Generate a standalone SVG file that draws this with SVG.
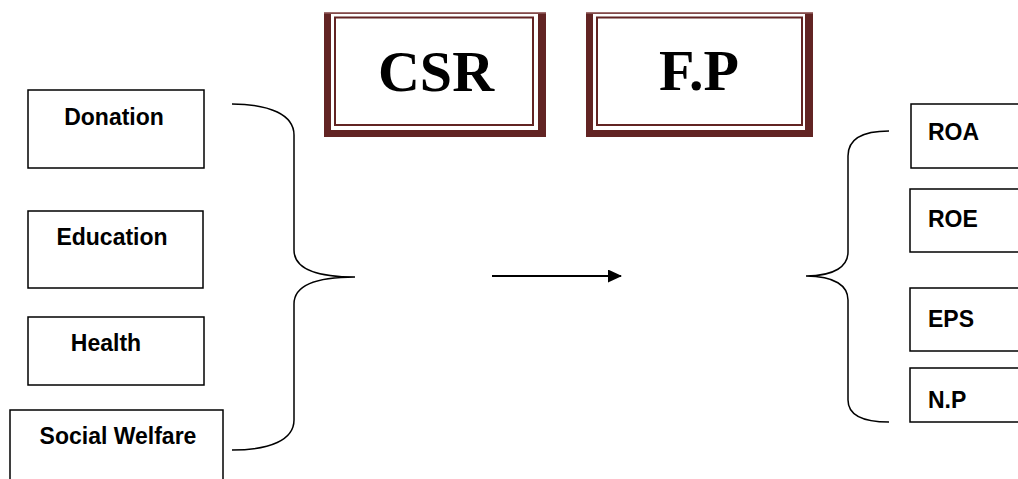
<svg xmlns="http://www.w3.org/2000/svg" width="1018" height="479" viewBox="0 0 1018 479">
<style>
.box{fill:#fff;stroke:#000;stroke-width:1.5}
.lbl{font-family:"Liberation Sans",Arial,sans-serif;font-weight:bold;font-size:23px;fill:#000}
.big{font-family:"Liberation Serif","Times New Roman",serif;font-weight:bold;font-size:58px;fill:#000;text-anchor:middle}
.frame{fill:#622423}
.inner{fill:none;stroke:#622423;stroke-width:2}
.brace{fill:none;stroke:#000;stroke-width:1.5}
</style>
<defs>
<marker id="ah" markerWidth="14" markerHeight="13" refX="13" refY="6.5" orient="auto" markerUnits="userSpaceOnUse">
<path d="M0,0 L14,6.5 L0,13 Z" fill="#000"/>
</marker>
</defs>
<rect width="1018" height="479" fill="#fff"/>
<g id="csr">
<rect class="frame" x="324" y="12" width="222" height="125"/>
<rect x="331" y="14" width="207" height="116" fill="#fff"/>
<rect x="324" y="12" width="222" height="1.5" fill="#a07070"/>
<rect class="inner" x="335" y="17.5" width="198" height="107.5"/>
<text class="big" x="436" y="91">CSR</text>
</g>
<g id="fp">
<rect class="frame" x="586" y="12" width="227" height="125"/>
<rect x="593" y="14" width="212" height="116" fill="#fff"/>
<rect x="586" y="12" width="227" height="1.5" fill="#a07070"/>
<rect class="inner" x="597" y="17.5" width="205" height="107.5"/>
<text class="big" x="699" y="90">F.P</text>
</g>
<g id="donation"><rect class="box" x="28" y="90" width="176" height="78"/><text class="lbl" x="114" y="125" text-anchor="middle">Donation</text></g>
<g id="education"><rect class="box" x="28" y="211" width="175" height="77"/><text class="lbl" x="112" y="245" text-anchor="middle">Education</text></g>
<g id="health"><rect class="box" x="28" y="317" width="176" height="68"/><text class="lbl" x="106" y="351" text-anchor="middle">Health</text></g>
<g id="social-welfare"><rect class="box" x="10" y="410" width="213" height="80"/><text class="lbl" x="118" y="444" text-anchor="middle">Social Welfare</text></g>
<g id="roa"><rect class="box" x="911" y="104" width="120" height="64"/><text class="lbl" x="928" y="140">ROA</text></g>
<g id="roe"><rect class="box" x="910" y="189" width="120" height="63"/><text class="lbl" x="928" y="227">ROE</text></g>
<g id="eps"><rect class="box" x="910" y="288" width="120" height="63"/><text class="lbl" x="928" y="327">EPS</text></g>
<g id="np"><rect class="box" x="910" y="368" width="120" height="54"/><text class="lbl" x="928" y="408">N.P</text></g>
<g id="connectors">
<path class="brace" d="M232,104 C270,104 294,115 294,135 L294,250 C294,268 315,277 355,277 C315,277 294,286 294,304 L294,420 C294,440 270,450 232,450"/>
<path class="brace" d="M889,131 C860,131 848,140 848,156 L848,252 C848,266 835,276 806,276 C835,276 848,286 848,300 L848,400 C848,414 860,422 889,422"/>
<line x1="492" y1="276" x2="621" y2="276" stroke="#000" stroke-width="2" marker-end="url(#ah)"/>
</g>
</svg>
